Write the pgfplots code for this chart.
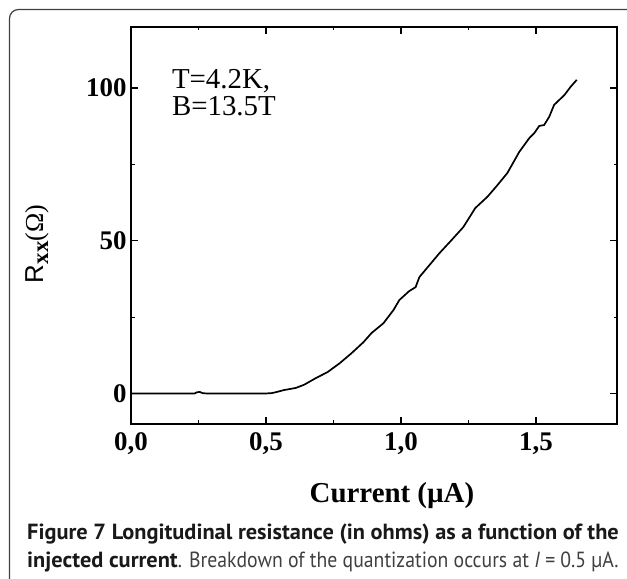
\documentclass[border=0pt]{standalone}
\usepackage{fontspec}
\setmainfont{Liberation Serif}
\newfontfamily\capbold[FakeStretch=1.02]{PT Sans}
\newfontfamily\capreg[FakeStretch=0.9]{PT Sans}
\newfontfamily\arialfont{Liberation Sans}
\usepackage{pgfplots}
\pgfplotsset{compat=1.18}

\begin{document}
\begin{tikzpicture}[x=1bp,y=1bp]
\useasboundingbox (0,0) rectangle (627,579);
\begin{scope}
\clip (0,0) rectangle (627,579);
\draw[rounded corners=9bp, line width=1.2bp, black!75] (9.5,-30) rectangle (680,569.5);
\end{scope}

\begin{axis}[
  at={(131bp,155bp)}, anchor=south west,
  width=486bp, height=397bp, scale only axis,
  xmin=0, xmax=1.8, ymin=-10, ymax=120,
  xtick={0,0.5,1,1.5}, minor x tick num=1,
  ytick={0,50,100}, minor y tick num=1,
  tick align=inside,
  major tick length=7bp, minor tick length=3.5bp,
  axis line style={line width=1.2bp},
  every tick/.style={line width=1.2bp, black},
  /pgf/number format/assume math mode=true,
  xticklabel style={/pgf/number format/use comma, /pgf/number format/fixed,
    /pgf/number format/fixed zerofill, /pgf/number format/precision=1, yshift=-5bp},
  yticklabel style={/pgf/number format/fixed, /pgf/number format/precision=0, xshift=-1bp},
  tick label style={font=\fontsize{27}{27}\selectfont\bfseries},
  xlabel={Current (µA)},
  xlabel style={font=\fontsize{29}{29}\selectfont\bfseries, at={(axis description cs:0.537,-0.179)}, anchor=center},
]
\addplot[black, line width=1.7bp] coordinates {
(0,0) (0.1,0) (0.2,0) (0.235,0) (0.245,0.4) (0.255,0.5) (0.265,0.1) (0.28,0)
(0.4,0) (0.5,0) (0.52,0.1) (0.536,0.4) (0.566,1.1) (0.61,1.8) (0.64,2.8)
(0.684,5.0) (0.728,7.0) (0.773,9.9) (0.817,13.2) (0.861,16.8) (0.891,19.8)
(0.935,23.0) (0.972,27.3) (0.994,30.6) (1.03,33.5) (1.054,34.8) (1.068,38.1)
(1.105,42.0) (1.142,45.9) (1.187,50.2) (1.231,54.5) (1.275,60.7) (1.32,64.4)
(1.357,68.2) (1.394,72.2) (1.438,79.1) (1.475,83.6) (1.494,85.3) (1.512,87.6)
(1.53,87.9) (1.549,90.6) (1.567,94.5) (1.586,96.1) (1.605,97.7) (1.629,100.5)
(1.651,102.7)
};
\node[anchor=north west, align=left, inner sep=0pt, font=\fontsize{29}{27}\selectfont]
  at (axis description cs:0.084,0.894) {T=4.2K,\\B=13.5T};
\end{axis}

\node[rotate=90, anchor=center, inner sep=0pt, font=\fontsize{26}{26}\selectfont]
  at (37,335)
  {\arialfont R\raisebox{-0.35ex}{\fontsize{23}{23}\selectfont\rmfamily\bfseries xx}\rmfamily(Ω)};

\node[anchor=base west, inner sep=0pt, font=\capbold\bfseries\fontsize{22}{22}\selectfont, text=black!90]
  at (27,39) {Figure 7 Longitudinal resistance (in ohms) as a function of the};
\node[anchor=base west, inner sep=0pt, font=\fontsize{22}{22}\selectfont]
  at (27,11) {{\capbold\bfseries\color{black!90}injected current}{\capreg\color{black!75}. Breakdown of the quantization occurs at \textit{I} = 0.5 µA.}};
\end{tikzpicture}
\end{document}
